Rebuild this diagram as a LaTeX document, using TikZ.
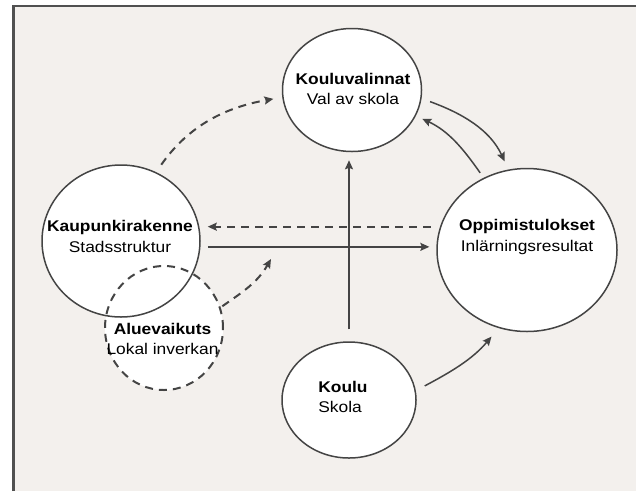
\documentclass[tikz,border=0pt]{standalone}
\usepackage{fontspec}
\setmainfont[FakeStretch=1.12]{Liberation Sans}
\usetikzlibrary{shapes.geometric,arrows.meta}
\definecolor{bg}{RGB}{243,240,237}
\definecolor{ink}{RGB}{68,68,68}
\definecolor{framec}{RGB}{80,80,80}
\tikzset{
  bubble/.style={ellipse, draw=ink, line width=1.5pt, fill=white, inner sep=0pt},
  dbubble/.style={ellipse, draw=ink, line width=2pt, dash pattern=on 8pt off 6pt, inner sep=0pt},
  txt/.style={align=center, font=\fontsize{15.5}{20.5}\selectfont, inner sep=0pt, text=black},
  arr/.style={draw=ink, line width=1.5pt, -{Stealth[length=9pt,width=8pt,inset=1.5pt]}},
  darr/.style={arr, line width=2pt, dash pattern=on 8pt off 6pt},
}
\begin{document}
\begin{tikzpicture}[x=1pt,y=1pt]
\useasboundingbox (0,0) rectangle (636,-491);
\fill[white] (0,0) rectangle (636,-491);
\fill[bg] (12,-6) rectangle (636,-491);
\draw[framec, line width=2.5pt] (13.3,-491) -- (13.3,-6.2) -- (636,-6.2);

% white interior of the dashed circle
\fill[white] (164,-328) ellipse [x radius=59, y radius=62];

\node[bubble, minimum width=158pt, minimum height=152pt] (kr) at (121,-241) {};
\node[dbubble, minimum width=118pt, minimum height=124pt] (av) at (164,-328) {};
\node[bubble, minimum width=139pt, minimum height=123pt] (kv) at (352,-90) {};
\node[bubble, minimum width=180pt, minimum height=163pt] (op) at (527,-250) {};
\node[bubble, minimum width=134pt, minimum height=116pt] (ko) at (349,-400) {};

\node[txt] (kvT) at (353,-89) {\textbf{Kouluvalinnat}\\Val av skola};
\node[txt] (krT) at (120,-236.5) {\textbf{Kaupunkirakenne}\\Stadsstruktur};
\node[txt] (opT) at (527,-237) {\textbf{Oppimistulokset}\\Inlärningsresultat};
\node[txt, align=left] (koT) at (343,-397) {\textbf{Koulu}\\Skola};
\node[txt] (avT) at (162.5,-339) {\textbf{Aluevaikuts}\\Lokal inverkan};

\coordinate (avtip) at (271,-259);

% connectors
\draw[darr, shorten <=9pt, shorten >=9pt] (kr.63) to[out=55, in=190] (kv.186);
\draw[darr, shorten <=9pt, shorten >=7pt] (op.165) -- (op.165 -| kr.east);
\draw[arr, shorten <=7pt, shorten >=7pt] (kr.east |- op.178) -- (op.178);
\draw[arr, shorten <=12pt, shorten >=8pt] (ko.north) -- (ko.north |- kv.south);
\draw[arr, shorten <=9pt, shorten >=9pt] (kv.-7) to[out=-20, in=115] (op.103);
\draw[arr, shorten <=6pt, shorten >=7pt] (op.121) to[out=125, in=-25] (kv.-22);
\draw[arr, shorten <=10pt, shorten >=11pt] (ko.8) to[out=28, in=-130] (op.250);
\draw[darr, shorten <=2pt] (av.20) to[out=35, in=-120] (avtip);
\end{tikzpicture}
\end{document}
